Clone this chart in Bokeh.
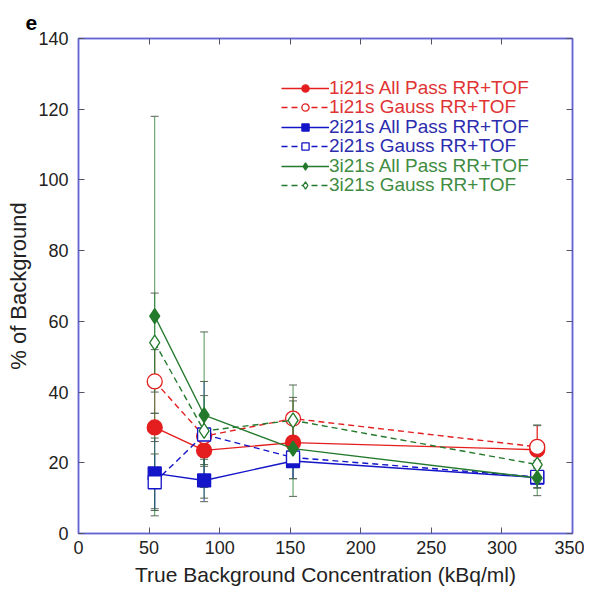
from bokeh.plotting import figure
from bokeh.models import (ColumnDataSource, Whisker, TeeHead, Legend, LegendItem,
                          LinearAxis, Range1d, FixedTicker, Title, CustomJSTickFormatter)
from bokeh.embed import file_html
from bokeh.resources import INLINE

# ---- data ----
conc = [54, 89, 152, 325]
red_ap = [30, 23.5, 25.7, 23.7]
red_ap_err = [4, 4, 5, 7]
red_g = [43, 27.5, 32.5, 24.5]
red_g_err = [9, 6, 6, 6]
blue_ap = [17, 15, 20.5, 15.8]
blue_ap_err = [10, 6, 5, 3]
blue_g = [14.5, 28, 21.5, 16]
blue_g_err = [8, 15, 6, 3]
green_ap = [61.5, 33.5, 24, 15.7]
green_ap_err = [56.5, 23.5, 13.5, 5]
green_g = [54, 29, 32, 19.5]
green_g_err = [14, 10, 10, 4]

labels = ["1i21s All Pass RR+TOF", "1i21s Gauss RR+TOF",
          "2i21s All Pass RR+TOF", "2i21s Gauss RR+TOF",
          "3i21s All Pass RR+TOF", "3i21s Gauss RR+TOF"]
x_ticks = [0, 50, 100, 150, 200, 250, 300, 350]
y_ticks = [0, 20, 40, 60, 80, 100, 120, 140]
x_title = "True Background Concentration (kBq/ml)"
y_title = "% of Background"

RED = "#e41e1e"
BLUE = "#1414c8"
GREEN = "#237a2c"
RED_T = "#e03434"
BLUE_T = "#2c2cae"
GREEN_T = "#3f8c42"
AXC = "#6464d2"
FONT = "Liberation Sans"

p = figure(width=584, height=590, output_backend="svg", toolbar_location=None,
           x_range=Range1d(0, 350), y_range=Range1d(0, 140),
           min_border_left=78, min_border_right=12, min_border_top=38,
           min_border_bottom=57)
p.grid.visible = False
p.outline_line_color = AXC
p.outline_line_width = 1.5

for ax in [p.xaxis[0], p.yaxis[0]]:
    ax.axis_line_color = AXC
    ax.axis_line_width = 1.5
    ax.major_tick_in = 6
    ax.major_tick_out = 0
    ax.major_tick_line_color = "#555566"
    ax.minor_tick_line_color = None
    ax.major_label_text_font = FONT
    ax.major_label_text_font_size = "18px"
    ax.major_label_text_color = "#222222"
    ax.axis_label_text_font = FONT
    ax.axis_label_text_font_style = "normal"
    ax.axis_label_text_color = "#222222"
p.xaxis[0].ticker = FixedTicker(ticks=x_ticks)
p.yaxis[0].ticker = FixedTicker(ticks=y_ticks)
p.yaxis[0].axis_label = y_title
p.yaxis[0].axis_label_text_font_size = "22px"
p.xaxis[0].major_label_standoff = 7
p.yaxis[0].major_label_standoff = 10
p.yaxis[0].axis_label_standoff = 4

blank = CustomJSTickFormatter(code="return '';")
for loc, tk in [("right", y_ticks), ("above", x_ticks)]:
    a = LinearAxis(ticker=FixedTicker(ticks=tk), formatter=blank,
                   major_label_text_color=None,
                   axis_line_color=AXC, axis_line_width=1.5, major_tick_in=6,
                   major_tick_out=0, major_tick_line_color="#555566",
                   minor_tick_line_color=None, major_label_standoff=0)
    p.add_layout(a, loc)

t = Title(text="e", align="left", offset=-53, text_font=FONT,
          text_font_size="21px", text_font_style="bold", text_color="black",
          standoff=14, vertical_align="top")
p.add_layout(t, "above")

xt = Title(text=x_title, align="center", offset=15, text_font=FONT,
           text_font_size="21px", text_font_style="normal", text_color="#222222",
           standoff=8)
p.add_layout(xt, "below")

series = [
    (red_ap, red_ap_err, RED, RED_T, "circle", True, "solid", 15),
    (red_g, red_g_err, RED, RED_T, "circle", False, "6 4", 15),
    (blue_ap, blue_ap_err, BLUE, BLUE_T, "square", True, "solid", 13),
    (blue_g, blue_g_err, BLUE, BLUE_T, "square", False, "6 4", 13),
    (green_ap, green_ap_err, GREEN, GREEN_T, "diamond", True, "solid", 15),
    (green_g, green_g_err, GREEN, GREEN_T, "diamond", False, "6 4", 15),
]

sources = []
for vals, err, col, tcol, mk, filled, dash, sz in series:
    src = ColumnDataSource(dict(x=conc, y=vals,
                                up=[v + e for v, e in zip(vals, err)],
                                lo=[v - e for v, e in zip(vals, err)]))
    sources.append(src)
    w = Whisker(base="x", upper="up", lower="lo", source=src, dimension="height",
                line_color=col, line_width=1, line_alpha=0.8,
                upper_head=TeeHead(size=8, line_color="#556655", line_width=1),
                lower_head=TeeHead(size=8, line_color="#556655", line_width=1))
    p.add_layout(w)

for i, (vals, err, col, tcol, mk, filled, dash, sz) in enumerate(series):
    src = sources[i]
    lr = p.line("x", "y", source=src, line_color=col, line_width=1.4, line_dash=dash)
    mr = p.scatter("x", "y", source=src, marker=mk, size=sz, line_color=col,
                   line_width=1.3, fill_color=col if filled else "white")
    leg = Legend(items=[LegendItem(label=labels[i], renderers=[lr, mr])],
                 location=(203, 434.5 - 19.5 * i), glyph_width=48, glyph_height=18,
                 label_height=18, label_standoff=0, padding=0, margin=0, spacing=0,
                 border_line_color=None, background_fill_alpha=0,
                 label_text_font=FONT, label_text_font_size="19px",
                 label_text_color=tcol)
    p.add_layout(leg, "center")

open("out.html", "w").write(file_html(p, INLINE))
